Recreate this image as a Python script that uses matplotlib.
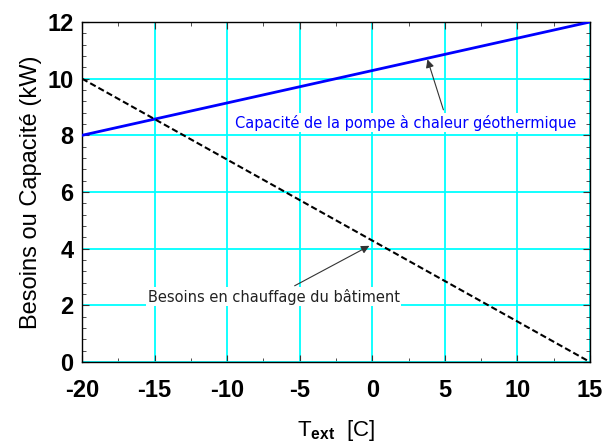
import numpy as np
import matplotlib.pyplot as plt
from matplotlib.ticker import MultipleLocator

plt.rcParams['font.family'] = ['Liberation Sans', 'DejaVu Sans']
plt.rcParams['axes.unicode_minus'] = False
plt.rcParams['mathtext.fontset'] = 'custom'
plt.rcParams['mathtext.rm'] = 'Liberation Sans'
plt.rcParams['mathtext.bf'] = 'Liberation Sans:bold'

# données
t_ext = [-20, 15]
capacite = [8, 12]
besoins = [10, 0]

fig = plt.figure(figsize=(6.04, 4.44), dpi=100)
ax = fig.add_axes([0.1358, 0.1847, 0.8410, 0.7658])

ax.plot(t_ext, capacite, color='#0000FF', lw=2, zorder=3)
ax.plot(t_ext, besoins, color='black', lw=1.5, linestyle=(0, (3, 1.5)), zorder=3)

ax.set_xlim(-20, 15)
ax.set_ylim(0, 12)
ax.xaxis.set_major_locator(MultipleLocator(5))
ax.xaxis.set_minor_locator(MultipleLocator(2.5))
ax.yaxis.set_major_locator(MultipleLocator(2))
ax.yaxis.set_minor_locator(MultipleLocator(0.4))
ax.grid(True, which='major', color='#00FFFF', lw=1.3, zorder=1)
ax.tick_params(which='both', direction='in', top=True, right=True, color='#333333')
ax.tick_params(which='major', length=5, labelsize=17)
ax.tick_params(axis='x', which='major', pad=12)
ax.tick_params(axis='y', which='major', pad=6)
ax.tick_params(which='minor', length=3)
for lab in ax.get_xticklabels() + ax.get_yticklabels():
    lab.set_fontweight('bold')
for s in ax.spines.values():
    s.set_linewidth(1)

ax.set_ylabel('Besoins ou Capacité (kW)', fontsize=17, labelpad=4)
ax.set_xlabel(r'T$_{\mathbf{ext}}$  [C]', fontsize=16, labelpad=12)

# annotations
arrow = dict(arrowstyle='-|>', color='#333333', lw=0.8, shrinkA=0, shrinkB=0, mutation_scale=12)
ax.text(2.3, 8.45, 'Capacité de la pompe à chaleur géothermique', color='#0000FF',
        fontsize=10.5, family='DejaVu Sans', ha='center', va='center',
        bbox=dict(facecolor='white', edgecolor='none', pad=1), zorder=4)
ax.annotate('', xy=(3.8, 10.68), xytext=(4.9, 8.9), arrowprops=arrow, zorder=4)

ax.text(-6.8, 2.3, 'Besoins en chauffage du bâtiment', color='#222222',
        fontsize=10.5, family='DejaVu Sans', ha='center', va='center',
        bbox=dict(facecolor='white', edgecolor='none', pad=1), zorder=4)
ax.annotate('', xy=(-0.2, 4.1), xytext=(-5.35, 2.69), arrowprops=arrow, zorder=4)

fig.savefig('out.png', dpi=100)
